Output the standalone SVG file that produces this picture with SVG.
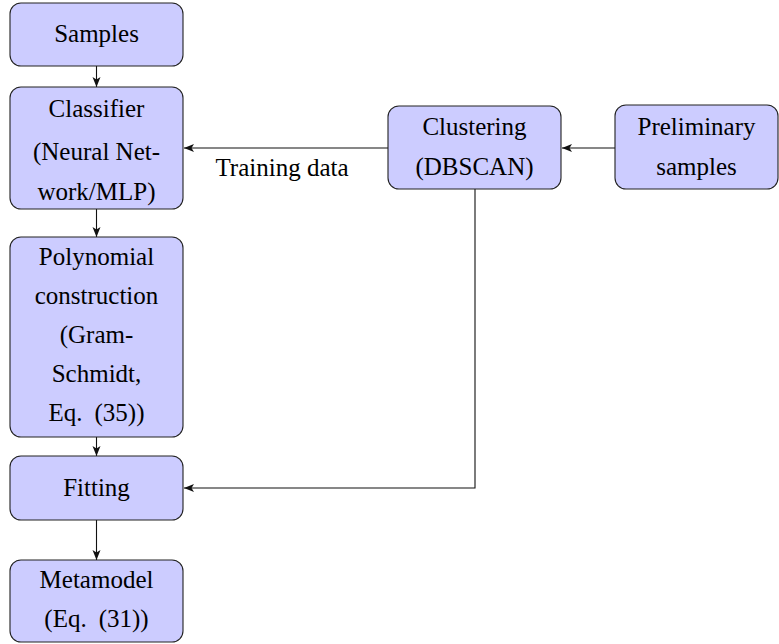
<svg xmlns="http://www.w3.org/2000/svg" width="779" height="644" viewBox="0 0 779 644">
<defs>
<marker id="ah" viewBox="0 0 10 10" refX="10" refY="5" markerWidth="10" markerHeight="10" markerUnits="userSpaceOnUse" orient="auto">
<path d="M0,1 L10,5 L0,9 L2.5,5 Z" fill="#111"/>
</marker>
</defs>
<rect width="779" height="644" fill="#fff"/>
<g id="connectors" fill="none" stroke="#111" stroke-width="1.1">
<line x1="96.5" y1="66" x2="96.5" y2="87" marker-end="url(#ah)"/>
<line x1="96.5" y1="209" x2="96.5" y2="237" marker-end="url(#ah)"/>
<line x1="96.5" y1="437" x2="96.5" y2="456" marker-end="url(#ah)"/>
<line x1="96.5" y1="520" x2="96.5" y2="560" marker-end="url(#ah)"/>
<line x1="388" y1="148" x2="184" y2="148" marker-end="url(#ah)"/>
<line x1="615" y1="148" x2="562" y2="148" marker-end="url(#ah)"/>
<polyline points="475,189 475,488 184,488" marker-end="url(#ah)"/>
</g>
<text font-family="Liberation Serif" font-size="25" text-anchor="middle" x="282" y="176">Training data</text>
<g id="samples">
<rect fill="#ccccff" stroke="#222" stroke-width="1.1" x="10" y="3" width="173" height="63" rx="11"/>
<text font-family="Liberation Serif" font-size="25" text-anchor="middle" x="96.5" y="42">Samples</text>
</g>
<g id="classifier">
<rect fill="#ccccff" stroke="#222" stroke-width="1.1" x="10" y="87" width="173" height="122" rx="11"/>
<text font-family="Liberation Serif" font-size="25" text-anchor="middle" x="96.5" y="117">Classifier</text>
<text font-family="Liberation Serif" font-size="25" text-anchor="middle" x="96.5" y="160">(Neural Net-</text>
<text font-family="Liberation Serif" font-size="25" text-anchor="middle" x="96.5" y="200">work/MLP)</text>
</g>
<g id="polynomial">
<rect fill="#ccccff" stroke="#222" stroke-width="1.1" x="10" y="237" width="173" height="200" rx="11"/>
<text font-family="Liberation Serif" font-size="25" text-anchor="middle" x="96.5" y="265">Polynomial</text>
<text font-family="Liberation Serif" font-size="25" text-anchor="middle" x="96.5" y="304">construction</text>
<text font-family="Liberation Serif" font-size="25" text-anchor="middle" x="96.5" y="343">(Gram-</text>
<text font-family="Liberation Serif" font-size="25" text-anchor="middle" x="96.5" y="382">Schmidt,</text>
<text font-family="Liberation Serif" font-size="25" text-anchor="middle" x="96.5" y="421">Eq.<tspan dx="12">(35))</tspan></text>
</g>
<g id="fitting">
<rect fill="#ccccff" stroke="#222" stroke-width="1.1" x="10" y="456" width="173" height="64" rx="11"/>
<text font-family="Liberation Serif" font-size="25" text-anchor="middle" x="96.5" y="496">Fitting</text>
</g>
<g id="metamodel">
<rect fill="#ccccff" stroke="#222" stroke-width="1.1" x="10" y="560" width="173" height="82" rx="11"/>
<text font-family="Liberation Serif" font-size="25" text-anchor="middle" x="96.5" y="588">Metamodel</text>
<text font-family="Liberation Serif" font-size="25" text-anchor="middle" x="96.5" y="627">(Eq.<tspan dx="12">(31))</tspan></text>
</g>
<g id="clustering">
<rect fill="#ccccff" stroke="#222" stroke-width="1.1" x="388" y="106" width="173" height="83" rx="11"/>
<text font-family="Liberation Serif" font-size="25" text-anchor="middle" x="474.5" y="135">Clustering</text>
<text font-family="Liberation Serif" font-size="25" text-anchor="middle" x="474.5" y="175">(DBSCAN)</text>
</g>
<g id="preliminary">
<rect fill="#ccccff" stroke="#222" stroke-width="1.1" x="615" y="105" width="163" height="84" rx="11"/>
<text font-family="Liberation Serif" font-size="25" text-anchor="middle" x="696.5" y="135">Preliminary</text>
<text font-family="Liberation Serif" font-size="25" text-anchor="middle" x="696.5" y="175">samples</text>
</g>
</svg>
